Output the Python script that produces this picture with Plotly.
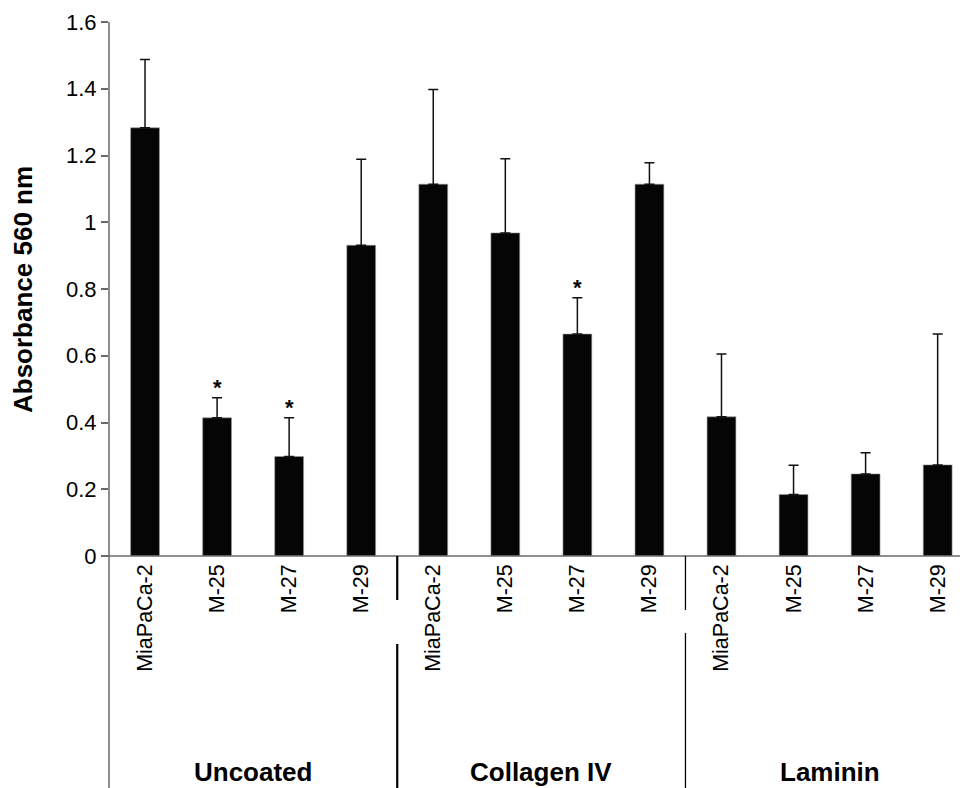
import plotly.graph_objects as go

categories = ["MiaPaCa-2", "M-25", "M-27", "M-29",
              "MiaPaCa-2", "M-25", "M-27", "M-29",
              "MiaPaCa-2", "M-25", "M-27", "M-29"]
groups = ["Uncoated", "Collagen IV", "Laminin"]
means = [1.283, 0.414, 0.298, 0.931,
         1.114, 0.968, 0.665, 1.114,
         0.417, 0.184, 0.246, 0.273]
err_tops = [1.488, 0.474, 0.414, 1.189,
            1.398, 1.190, 0.774, 1.178,
            0.605, 0.272, 0.309, 0.665]
significant = [False, True, True, False,
               False, False, True, False,
               False, False, False, False]
y_ticks = [0, 0.2, 0.4, 0.6, 0.8, 1.0, 1.2, 1.4, 1.6]

FONT = "Liberation Sans, Arial, sans-serif"
xs = list(range(len(categories)))
errs = [t - m for t, m in zip(err_tops, means)]

fig = go.Figure()
fig.add_trace(go.Bar(
    x=xs, y=means, width=0.4,
    marker=dict(color="#050505", line=dict(color="#9a9a9a", width=0.6)),
    error_y=dict(type="data", array=errs, arrayminus=[0] * len(errs), symmetric=False,
                 color="#111111", thickness=1.5, width=5),
    showlegend=False, hoverinfo="skip",
))

W, H = 960, 788
L, R, T, B = 109, 0, 22, 232
ph = H - T - B
pw = W - L - R

def py(pix):
    return (H - B - pix) / ph

for i, s in enumerate(significant):
    if s:
        fig.add_annotation(x=xs[i], y=err_tops[i], text="<b>*</b>", showarrow=False,
                           yanchor="bottom", yshift=-4,
                           font=dict(family=FONT, size=22, color="black"))

# group labels
for g, name in enumerate(groups):
    fig.add_annotation(x=g * 4 + 1.5, y=py(772), xref="x", yref="paper", text="<b>%s</b>" % name,
                       showarrow=False, yanchor="middle", xanchor="center",
                       font=dict(family=FONT, size=26, color="black"))

# y title
fig.add_annotation(x=(23 - L) / pw, y=py(290), xref="paper", yref="paper",
                   text="<b>Absorbance 560 nm</b>", textangle=-90, showarrow=False,
                   xanchor="center", yanchor="middle",
                   font=dict(family=FONT, size=26, color="black"))

# y axis line extended down, x axis extension to the left
fig.add_shape(type="line", xref="paper", yref="paper", x0=0, x1=0, y0=1, y1=py(H),
              line=dict(color="#6a6a6a", width=1.5))
fig.add_shape(type="line", xref="paper", yref="paper", x0=(101 - L) / pw, x1=1, y0=0, y1=0,
              line=dict(color="#6a6a6a", width=1.5))

# group dividers
for xd, segs, wdt in [(3.5, [(556, 600), (644, H)], 2.2), (7.5, [(556, 610), (633, H)], 1.3)]:
    for a, b in segs:
        fig.add_shape(type="line", xref="x", yref="paper", x0=xd, x1=xd, y0=py(a), y1=py(b),
                      line=dict(color="black", width=wdt))

fig.update_layout(
    width=W, height=H,
    margin=dict(l=L, r=R, t=T, b=B, pad=0),
    plot_bgcolor="white", paper_bgcolor="white",
    font=dict(family=FONT, size=22, color="black"),
    xaxis=dict(range=[-0.5, 11.31], tickmode="array", tickvals=xs, ticktext=categories,
               tickangle=-90, ticks="", ticklabelstandoff=3,
               showline=False, showgrid=False, zeroline=False,
               tickfont=dict(family=FONT, size=21.5, color="black")),
    yaxis=dict(range=[0, 1.6], tickmode="array", tickvals=y_ticks,
               ticktext=["0", "0.2", "0.4", "0.6", "0.8", "1", "1.2", "1.4", "1.6"],
               ticks="outside", ticklen=7, tickwidth=1.5, tickcolor="#6a6a6a",
               showline=False, showgrid=False, zeroline=False,
               tickfont=dict(family=FONT, size=22, color="black")),
)

fig.write_html("out.html", config={"displayModeBar": False},
               post_script="document.body.style.margin='0';document.body.style.padding='0';")
